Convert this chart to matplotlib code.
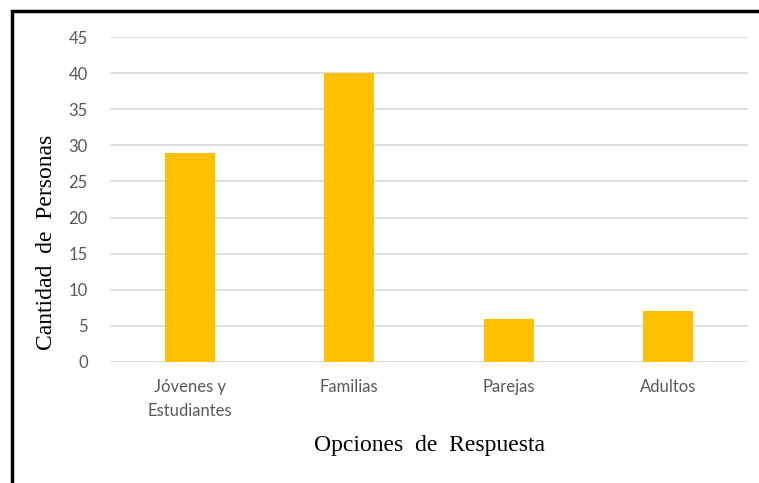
import matplotlib
matplotlib.use("Agg")
import matplotlib.pyplot as plt
from matplotlib.patches import Rectangle

# data
categorias = ["Jóvenes y\nEstudiantes", "Familias", "Parejas", "Adultos"]
personas = [29, 40, 6, 7]
yticks = [0, 5, 10, 15, 20, 25, 30, 35, 40, 45]

fig = plt.figure(figsize=(7.59, 4.83), dpi=100)
ax = fig.add_axes([110 / 759, 1 - 362 / 483, 638 / 759, 325 / 483])

x = range(len(categorias))
ax.bar(x, personas, width=0.315, color="#FFC000", zorder=3)

ax.set_xlim(-0.5, len(categorias) - 0.5)
ax.set_ylim(0, 45)
ax.set_yticks(yticks)
ax.set_xticks(list(x))
ax.set_xticklabels(categorias, fontsize=12, color="#595959",
                   family=["Lato", "DejaVu Sans"], linespacing=1.65)
for lbl in ax.get_yticklabels():
    lbl.set_fontsize(12)
    lbl.set_color("#595959")
    lbl.set_family(["Lato", "DejaVu Sans"])

ax.tick_params(axis="both", length=0)
ax.tick_params(axis="y", pad=16)
ax.tick_params(axis="x", pad=12)
ax.grid(axis="y", color="#d9d9d9", linewidth=1.2, zorder=0)
for s in ax.spines.values():
    s.set_visible(False)

fig.text(47 / 759, 1 - 242 / 483, "Cantidad  de  Personas", rotation=90,
         ha="center", va="center", fontsize=17, family="Liberation Serif")
fig.text(430 / 759, 1 - 446 / 483, "Opciones  de  Respuesta",
         ha="center", va="center", fontsize=17, family="Liberation Serif")

# black frame around the chart
fig.patches.append(Rectangle((12 / 759, -0.05), 1.1, 1 - 11 / 483 + 0.05,
                             transform=fig.transFigure, fill=False,
                             edgecolor="black", linewidth=2.5, clip_on=False))

fig.savefig("out.png", dpi=100)
